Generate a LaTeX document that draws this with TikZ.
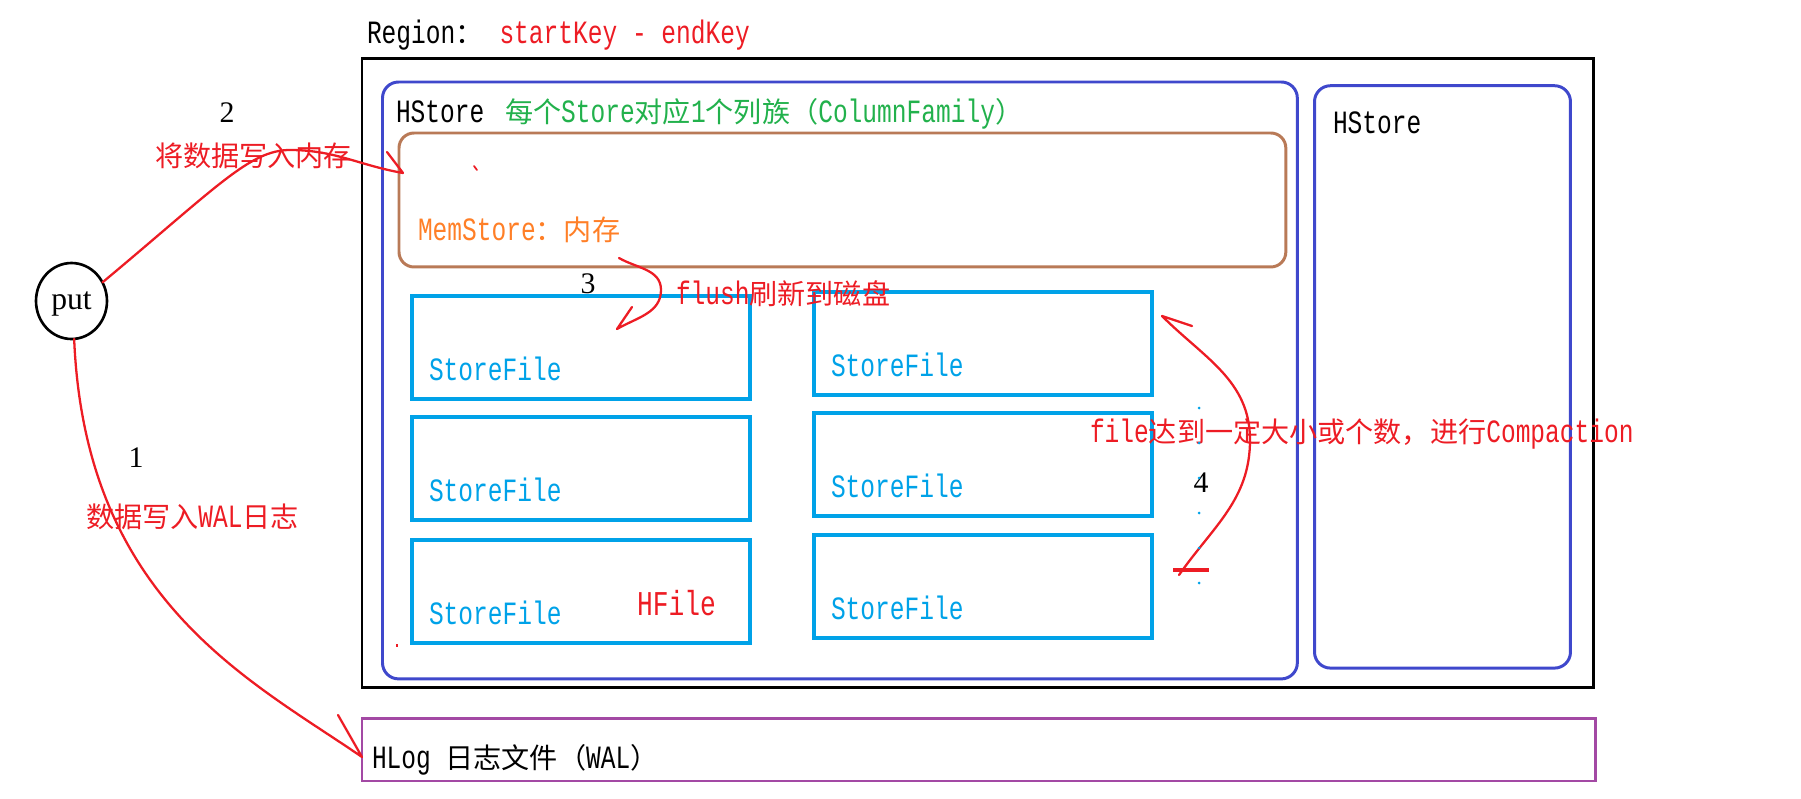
\documentclass[tikz,border=0pt]{standalone}
\usepackage{fontspec}
\setmainfont{Liberation Serif}
\newfontfamily\latmono[FakeStretch=0.755]{Liberation Mono}
\newfontfamily\cjk[Scale=0.865]{Noto Sans CJK SC}
\usetikzlibrary{shapes.geometric}

\definecolor{hred}{HTML}{ED1C24}
\definecolor{hblue}{HTML}{3F48CC}
\definecolor{hcyan}{HTML}{00A2E8}
\definecolor{hbrown}{HTML}{B97A57}
\definecolor{hgreen}{HTML}{22B14C}
\definecolor{horange}{HTML}{FF7F27}
\definecolor{hpurple}{HTML}{A349A4}

\begin{document}
\begin{tikzpicture} [
						x=0.02cm, y=-0.02cm,
						every node/.style={inner sep=0pt, outer sep=0pt},
						mono/.style={font=\latmono\fontsize{18.5}{20}\selectfont, anchor=base west},
						serif/.style={font=\fontsize{17}{20}\selectfont, anchor=base},
						boxframe/.style={draw, line width=1.7pt, anchor=north west},
						storebox/.style={boxframe, draw=hblue, rounded corners=0.32cm},
						membox/.style={boxframe, draw=hbrown, rounded corners=0.3cm},
						filebox/.style={boxframe, draw=hcyan, line width=1.9pt, minimum width=6.76cm, minimum height=2.06cm},
						logbox/.style={boxframe, draw=hpurple},
						redline/.style={draw=hred, line width=1.3pt, line join=round, line cap=round}
					]

\useasboundingbox (0,0) rectangle (1801,798);

\node (region) [boxframe, minimum width=24.64cm, minimum height=12.59cm] at (362,58.6) {};
\node (store1) [storebox, minimum width=18.3cm, minimum height=11.94cm] at (382.5,82) {};
\node (store2) [storebox, minimum width=5.12cm, minimum height=11.65cm] at (1314.5,85.7) {};
\node (mem) [membox, minimum width=17.74cm, minimum height=2.68cm] at (399,133) {};
\node (fl1) [filebox] at (412,296) {};
\node (fl2) [filebox] at (412,417) {};
\node (fl3) [filebox] at (412,540) {};
\node (fr1) [filebox] at (814,292) {};
\node (fr2) [filebox] at (814,413) {};
\node (fr3) [filebox] at (814,535) {};
\node (hlog) [logbox, minimum width=24.68cm, minimum height=1.26cm] at (362,718) {};
\node (put) [draw, ellipse, line width=1.5pt, minimum width=1.42cm, minimum height=1.52cm,
	font=\fontsize{18}{20}\selectfont, text depth=0pt] at (71.5,301) {put};

\node (regiontxt) [mono] at (367,43) {Region{\cjk ：}};
\node (keys) [mono, text=hred] at (499.5,43) {startKey - endKey};
\node (store1txt) [mono] at (396,122) {HStore};
\node (cftxt) [mono, text=hgreen] at (505,122) {{\cjk 每个}Store{\cjk 对应}1{\cjk 个列族（}ColumnFamily{\cjk ）}};
\node (store2txt) [mono] at (1333,133) {HStore};
\node (memtxt) [mono, text=horange] at (418,240) {MemStore{\cjk ：内存}};
\foreach \f in {fl1,fl2,fl3,fr1,fr2,fr3}
	\node [mono, text=hcyan] at ([shift={(17,-18.5)}]\f.south west) {StoreFile};
\node (hfile) [mono, text=hred, font=\latmono\fontsize{19.8}{20}\selectfont] at (637,615) {HFile};
\node (logtxt) [mono] at (372,768) {HLog {\cjk 日志文件（}WAL{\cjk ）}};

\node (n1) [serif] at (136,467) {1};
\node (n2) [serif] at (227,122) {2};
\node (n3) [serif] at (588,293) {3};
\node (n4) [serif] at (1201,492) {4};
\node (step1) [mono, text=hred] at (86,527) {{\cjk 数据写入}WAL{\cjk 日志}};
\node (step2) [mono, text=hred] at (155,166) {\cjk 将数据写入内存};
\node (step3) [mono, text=hred] at (676,304) {flush{\cjk 刷新到磁盘}};
\node (step4) [mono, text=hred] at (1090,442) {file{\cjk 达到一定大小或个数，进行}Compaction};

\coordinate (t1) at (362,757);
\coordinate (m2) at (290,150);
\coordinate (t2) at (403,173);
\coordinate (s3) at (619,258);
\coordinate (m3) at (661,290);
\coordinate (t3) at (617,329);
\coordinate (s4) at (1179,575);
\coordinate (m4) at (1250,440);
\coordinate (t4) at (1162,316);

\draw[redline] (put.-86) .. controls (85,600) and (250,680) .. (t1) -- ++(-24,-42);
\draw[redline] (put.31) .. controls (218,186) and (250,150) .. (m2) to[out=0, in=170] (t2) -- ++(-16,-21);
\draw[redline] (s3) to[out=-30, in=90] (m3) to[out=-90, in=30] (t3) -- ++(15,-22);
\draw[redline] (s4) to[out=55, in=-90] (m4) to[out=90, in=-45] (t4) -- ++(30,10);
\draw[redline, line width=2.2pt, line cap=butt] (1173,570) -- (1209,570);

\draw[redline, line width=1pt] (474,166) -- (477,170);
\fill[hred] (396,644) rectangle (398,647);
\foreach \y in {408,443,...,583}
	\fill[hcyan] (1199,\y) circle (0.03cm);
\end{tikzpicture}
\end{document}
